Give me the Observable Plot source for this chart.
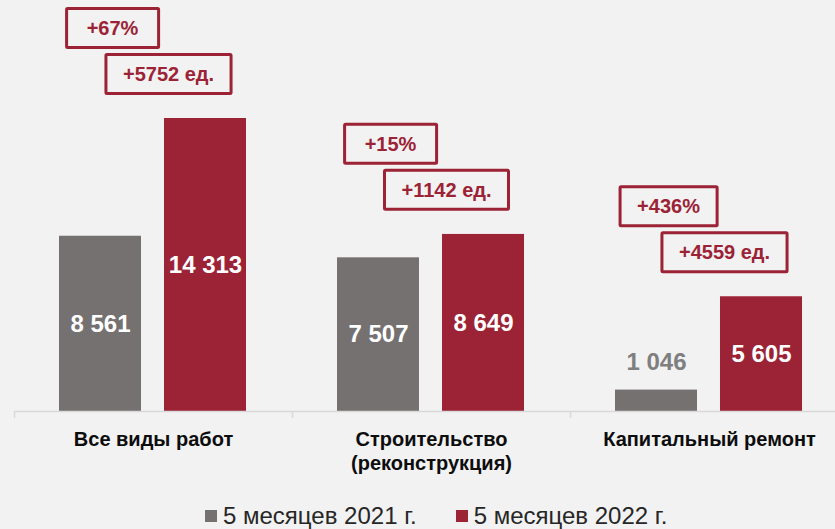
<!DOCTYPE html>
<html><head><meta charset="utf-8">
<script src="https://cdn.jsdelivr.net/npm/d3@7"></script>
<script src="https://cdn.jsdelivr.net/npm/@observablehq/plot@0.6"></script>
<style>
html,body{margin:0;padding:0;background:#f2f2f2;}
#wrap{width:835px;height:529px;overflow:hidden;position:relative;font-family:"Liberation Sans",Arial,sans-serif;background:#f2f2f2;}
#legend{position:absolute;left:205px;top:502px;display:flex;align-items:center;font-size:24px;color:#262626;white-space:nowrap;}
#legend .item{display:flex;align-items:center;margin-right:39px;}
#legend .sw{width:12px;height:12px;margin-right:6px;}
</style></head><body><div id="wrap"></div>
<script>
const categories = ["Все виды работ", "Строительство\n(реконструкция)", "Капитальный ремонт"];
const seriesNames = ["5 месяцев 2021 г.", "5 месяцев 2022 г."];
const values2021 = [8561, 7507, 1046];
const values2022 = [14313, 8649, 5605];
const pctChange = ["+67%", "+15%", "+436%"];
const absChange = ["+5752 ед.", "+1142 ед.", "+4559 ед."];
const colors = ["#767171", "#9c2236"];

const rows2021 = categories.map((c, i) => ({cat: c, value: values2021[i]}));
const rows2022 = categories.map((c, i) => ({cat: c, value: values2022[i]}));
const idx = categories.map((c, i) => i);
const fmt = v => d3.format(",")(v).replace(/,/g, " ");
const inside = d => d.value >= 3000;
const red = colors[1];

const chart = Plot.plot({
  width: 835, height: 495,
  marginLeft: 14, marginRight: 0, marginTop: 0, marginBottom: 0,
  style: {background: "transparent", fontFamily: "'Liberation Sans', Arial, sans-serif", overflow: "visible"},
  x: {domain: categories, range: [14, 848], padding: 0, axis: null},
  y: {domain: [0, 16000], range: [411, 411 - 16000 * 293 / 14313], axis: null},
  marks: [
    Plot.barY(rows2021, {x: "cat", y: "value", fill: colors[0], insetLeft: 45, insetRight: 151}),
    Plot.barY(rows2022, {x: "cat", y: "value", fill: colors[1], insetLeft: 150, insetRight: 46}),
    Plot.ruleY([0], {stroke: "#d9d9d9", strokeWidth: 1.5}),
    Plot.ruleX(categories, {x: d => d, y1: 0, y2: 0, dx: -139, insetBottom: -7, stroke: "#d9d9d9", strokeWidth: 1.5}),
    Plot.text(rows2021.filter(inside), {x: "cat", y: d => d.value / 2, dx: -53, text: d => fmt(d.value), fill: "white", fontSize: 24, fontWeight: "bold"}),
    Plot.text(rows2022.filter(inside), {x: "cat", y: d => d.value / 2, dx: 52, text: d => fmt(d.value), fill: "white", fontSize: 24, fontWeight: "bold"}),
    Plot.text(rows2021.filter(d => !inside(d)), {x: "cat", y: "value", dx: -53, dy: -28, text: d => fmt(d.value), fill: "#7f7f7f", fontSize: 24, fontWeight: "bold"}),
    Plot.text(rows2022.filter(d => !inside(d)), {x: "cat", y: "value", dx: 52, dy: -28, text: d => fmt(d.value), fill: "#7f7f7f", fontSize: 24, fontWeight: "bold"}),
    Plot.text(categories, {x: d => d, y: () => 0, dy: 17, lineAnchor: "top", lineHeight: 1.2, text: d => d, fontSize: 20, fontWeight: "bold", fill: "#0d0d0d"}),
    Plot.text(idx, {x: i => categories[i], y: i => values2022[i], dx: -41, dy: -90, text: i => pctChange[i], fill: red, fontSize: 20, fontWeight: "bold", className: "annot"}),
    Plot.text(idx, {x: i => categories[i], y: i => values2022[i], dx: 15, dy: -44, text: i => absChange[i], fill: red, fontSize: 20, fontWeight: "bold", className: "annot"})
  ]
});
const wrap = document.getElementById("wrap");
wrap.appendChild(chart);

// boxes around annotations
d3.select(chart).selectAll("g.annot text").each(function() {
  const t = this;
  const bb = t.getBBox();
  const w = Math.max(bb.width + 34, 92);
  const h = 39;
  const cx = bb.x + bb.width / 2, cy = bb.y + bb.height / 2;
  const r = document.createElementNS("http://www.w3.org/2000/svg", "rect");
  r.setAttribute("x", cx - w / 2);
  r.setAttribute("y", cy - h / 2);
  r.setAttribute("width", w);
  r.setAttribute("height", h);
  r.setAttribute("fill", "#f2f2f2");
  r.setAttribute("stroke", red);
  r.setAttribute("stroke-width", 3);
  r.setAttribute("rx", 1);
  if (t.getAttribute("transform")) r.setAttribute("transform", t.getAttribute("transform"));
  t.parentNode.insertBefore(r, t);
});

const legend = document.createElement("div");
legend.id = "legend";
seriesNames.forEach((n, i) => {
  const it = document.createElement("div");
  it.className = "item";
  const sw = document.createElement("span");
  sw.className = "sw";
  sw.style.background = colors[i];
  const tx = document.createElement("span");
  tx.textContent = n;
  it.appendChild(sw); it.appendChild(tx);
  legend.appendChild(it);
});
wrap.appendChild(legend);
</script>
</body></html>
